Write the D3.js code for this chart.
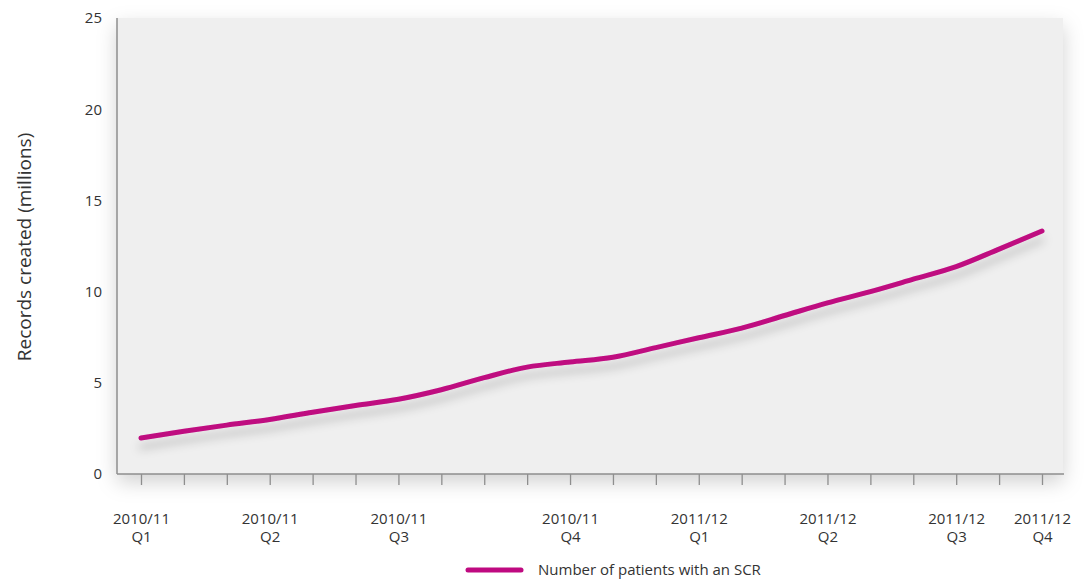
<!DOCTYPE html>
<html>
<head>
<meta charset="utf-8">
<script src="https://cdn.jsdelivr.net/npm/d3@7"></script>
<style>
  html, body { margin: 0; padding: 0; background: #fff; }
  svg { display: block; font-family: "Open Sans", "Noto Sans", sans-serif; }
</style>
</head>
<body>
<svg id="chart" width="1084" height="580"></svg>
<script>
// Quarterly reporting points (22 snapshots), labelled only at quarter marks
const periodLabels = [
  "2010/11|Q1", "", "", "2010/11|Q2", "", "", "2010/11|Q3", "", "", "",
  "2010/11|Q4", "", "", "2011/12|Q1", "", "", "2011/12|Q2", "", "",
  "2011/12|Q3", "", "2011/12|Q4"
];
// Number of patients with an SCR (millions)
const scrRecords = [
  1.97, 2.34, 2.68, 2.99, 3.39, 3.76, 4.10, 4.62, 5.28, 5.86, 6.14,
  6.40, 6.93, 7.47, 8.00, 8.69, 9.38, 10.00, 10.68, 11.37, 12.33, 13.32
];
const yTicks = [0, 5, 10, 15, 20, 25];
const seriesName = "Number of patients with an SCR";
const yTitle = "Records created (millions)";

const svg = d3.select("#chart");
const plot = { left: 117, right: 1063, top: 18, bottom: 474 };

const x = d3.scalePoint()
  .domain(d3.range(scrRecords.length))
  .range([141, 1042]);
const y = d3.scaleLinear().domain([0, 25]).range([plot.bottom, plot.top]);

const defs = svg.append("defs");
const panelShadow = defs.append("filter").attr("id", "panelShadow")
  .attr("x", "-10%").attr("y", "-10%").attr("width", "120%").attr("height", "130%");
panelShadow.append("feDropShadow")
  .attr("dx", 0).attr("dy", 8).attr("stdDeviation", 10)
  .attr("flood-color", "#000").attr("flood-opacity", 0.18);

const softShadow = defs.append("filter").attr("id", "softShadow")
  .attr("x", "-5%").attr("y", "-50%").attr("width", "110%").attr("height", "300%");
softShadow.append("feDropShadow")
  .attr("dx", 0).attr("dy", 6).attr("stdDeviation", 5)
  .attr("flood-color", "#000").attr("flood-opacity", 0.14);

const lineShadow = defs.append("filter").attr("id", "lineShadow")
  .attr("x", "-5%").attr("y", "-30%").attr("width", "110%").attr("height", "200%");
lineShadow.append("feDropShadow")
  .attr("dx", 0).attr("dy", 9).attr("stdDeviation", 5)
  .attr("flood-color", "#000").attr("flood-opacity", 0.2);

// Panel background
svg.append("rect")
  .attr("x", plot.left).attr("y", plot.top)
  .attr("width", plot.right - plot.left).attr("height", plot.bottom - plot.top)
  .attr("fill", "#efefef")
  .attr("filter", "url(#panelShadow)");

// Horizontal gridlines
svg.append("g")
  .selectAll("line")
  .data(yTicks.filter(d => d > 0))
  .join("line")
  .attr("x1", plot.left).attr("x2", plot.right + 1)
  .attr("y1", d => y(d)).attr("y2", d => y(d))
  .attr("stroke", "#8e8e8e").attr("stroke-width", 1.5)
  .attr("filter", "url(#softShadow)");

// Y axis labels
const yAxis = svg.append("g")
  .attr("transform", `translate(${plot.left},0)`)
  .call(d3.axisLeft(y).tickValues(yTicks).tickSize(0).tickPadding(15));
yAxis.select(".domain").remove();
yAxis.selectAll("text")
  .attr("font-size", 15).attr("fill", "#333")
  .attr("font-family", "'Open Sans', sans-serif");

// Left border
svg.append("line")
  .attr("x1", plot.left).attr("x2", plot.left)
  .attr("y1", plot.top).attr("y2", plot.bottom)
  .attr("stroke", "#8e8e8e").attr("stroke-width", 1.5);

// X axis with tick marks and two-line labels
const xAxis = svg.append("g")
  .attr("transform", `translate(0,${plot.bottom})`)
  .call(d3.axisBottom(x).tickSize(11).tickFormat(() => ""));
xAxis.select(".domain")
  .attr("d", `M${plot.left},0H${plot.right + 1}`)
  .attr("stroke", "#8e8e8e").attr("stroke-width", 1.5);
xAxis.selectAll(".tick line").attr("stroke", "#8e8e8e").attr("stroke-width", 1.3);

xAxis.selectAll(".tick text").remove();
xAxis.selectAll(".tick")
  .filter(d => periodLabels[d] !== "")
  .append("text")
  .attr("text-anchor", "middle")
  .attr("fill", "#333")
  .attr("font-size", 15)
  .attr("font-family", "'Open Sans', sans-serif")
  .each(function(d) {
    const parts = periodLabels[d].split("|");
    const t = d3.select(this);
    t.append("tspan").attr("x", 0).attr("y", 50).text(parts[0]);
    t.append("tspan").attr("x", 0).attr("y", 68).text(parts[1]);
  });

// Series line
const line = d3.line()
  .x((d, i) => x(i))
  .y(d => y(d))
  .curve(d3.curveMonotoneX);

svg.append("path")
  .datum(scrRecords)
  .attr("d", line)
  .attr("fill", "none")
  .attr("stroke", "#bf0a80")
  .attr("stroke-width", 5)
  .attr("stroke-linecap", "round")
  .attr("stroke-linejoin", "round")
  .attr("filter", "url(#lineShadow)");

// Y axis title
svg.append("text")
  .attr("transform", "translate(31,247) rotate(-90)")
  .attr("text-anchor", "middle")
  .attr("font-size", 19)
  .attr("fill", "#333")
  .attr("font-family", "'Open Sans', sans-serif")
  .text(yTitle);

// Legend
const legend = svg.append("g").attr("transform", "translate(468,570)");
legend.append("line")
  .attr("x1", 0).attr("x2", 53).attr("y1", 0).attr("y2", 0)
  .attr("stroke", "#bf0a80").attr("stroke-width", 5)
  .attr("stroke-linecap", "round");
legend.append("text")
  .attr("x", 70).attr("y", 5)
  .attr("font-size", 15).attr("fill", "#333")
  .attr("font-family", "'Open Sans', sans-serif")
  .text(seriesName);
</script>
</body>
</html>
